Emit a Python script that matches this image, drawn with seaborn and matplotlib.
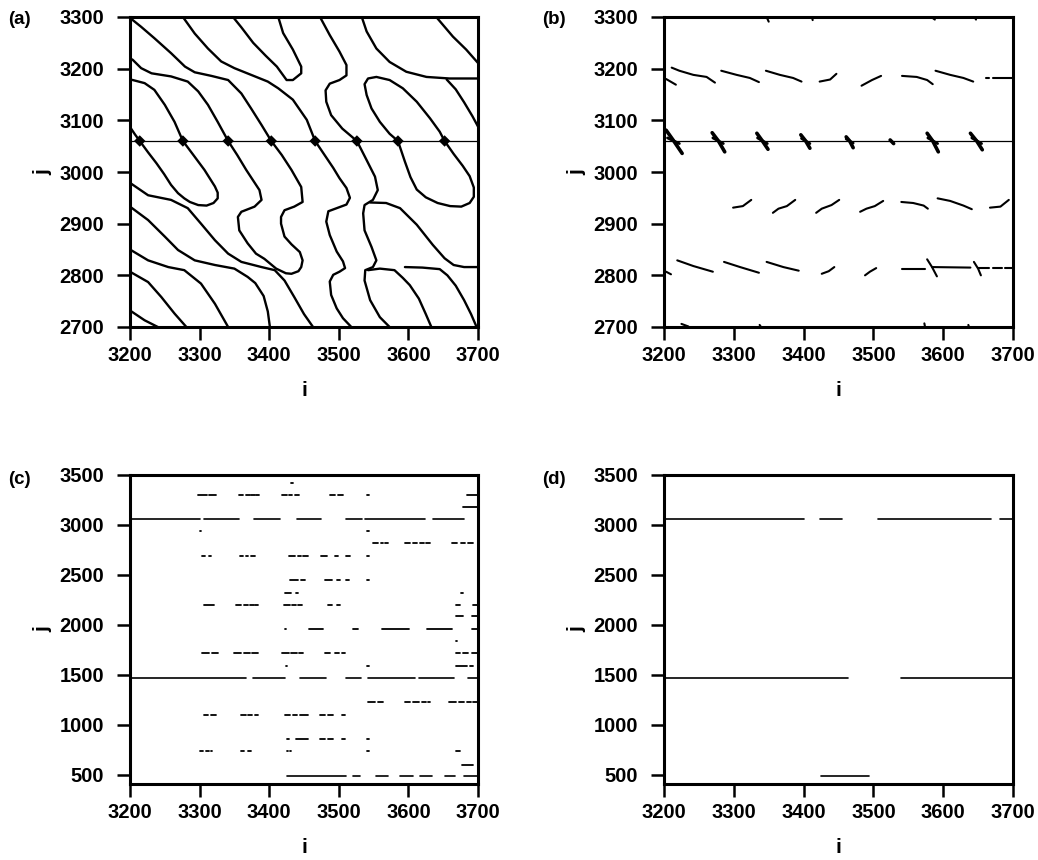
import matplotlib
matplotlib.use("Agg")
import matplotlib.pyplot as plt
import pandas as pd
import seaborn as sns

sns.set_theme(style="ticks", rc={"axes.edgecolor": "black", "xtick.color": "black",
                                 "ytick.color": "black", "text.color": "black",
                                 "axes.labelcolor": "black"})
plt.rcParams["font.family"] = ["Liberation Sans", "DejaVu Sans"]
plt.rcParams["font.weight"] = "bold"

# ---------------------------------------------------------------------
# panel (a): traced level lines, points are (i, j)
# ---------------------------------------------------------------------
cut_j = 3060
cross_i = [3214, 3276, 3341, 3403, 3466, 3526, 3585, 3652]

a_loop12 = [(3200, 3087), (3207, 3073), (3214, 3060), (3226, 3038), (3238, 3017), (3249, 2996),
            (3259, 2975), (3269, 2959), (3278, 2949), (3286, 2942), (3298, 2936), (3310, 2935),
            (3320, 2940), (3326, 2949), (3326, 2960), (3322, 2972), (3307, 3004), (3291, 3033),
            (3276, 3060), (3264, 3097), (3250, 3130), (3235, 3159), (3221, 3172), (3204, 3178),
            (3200, 3179)]
a_loop34 = [(3200, 3220), (3204, 3217), (3216, 3201), (3231, 3191), (3259, 3185), (3283, 3175),
            (3298, 3156), (3312, 3130), (3326, 3097), (3341, 3060), (3354, 3033), (3367, 3004),
            (3386, 2965), (3389, 2946), (3379, 2933), (3360, 2923), (3355, 2913), (3357, 2887),
            (3369, 2862), (3381, 2842), (3393, 2832), (3410, 2813), (3424, 2804), (3432, 2803),
            (3442, 2808), (3446, 2816), (3448, 2829), (3444, 2845), (3432, 2860), (3422, 2875),
            (3417, 2900), (3417, 2913), (3422, 2926), (3436, 2933), (3448, 2942), (3446, 2971),
            (3432, 3004), (3418, 3033), (3403, 3060), (3389, 3091), (3374, 3123), (3360, 3152),
            (3341, 3178), (3317, 3186), (3293, 3193), (3279, 3204), (3259, 3230), (3235, 3259),
            (3216, 3281), (3204, 3294), (3200, 3300)]
a_line5 = [(3276, 3300), (3293, 3268), (3312, 3239), (3331, 3214), (3350, 3201), (3374, 3188),
           (3398, 3175), (3413, 3162), (3434, 3140), (3454, 3101), (3466, 3060), (3478, 3036),
           (3492, 3008), (3501, 2988), (3511, 2969), (3516, 2950), (3511, 2937), (3497, 2930),
           (3485, 2924), (3482, 2904), (3487, 2878), (3497, 2846), (3506, 2827), (3509, 2814),
           (3501, 2807), (3492, 2801), (3487, 2788), (3489, 2762), (3497, 2736), (3506, 2717),
           (3518, 2700)]
a_hook_top = [(3348, 3300), (3360, 3280), (3377, 3250), (3395, 3225), (3411, 3204), (3425, 3178),
              (3434, 3178), (3446, 3191), (3446, 3204), (3434, 3237), (3420, 3269), (3413, 3300)]
a_line6 = [(3473, 3300), (3487, 3265), (3501, 3233), (3511, 3207), (3511, 3187), (3501, 3178),
           (3487, 3171), (3481, 3158), (3482, 3136), (3489, 3110), (3505, 3084), (3526, 3060),
           (3540, 3023), (3552, 2991), (3556, 2965), (3549, 2946), (3537, 2936), (3535, 2920),
           (3537, 2887), (3547, 2855), (3554, 2829), (3549, 2816), (3538, 2810), (3537, 2790),
           (3545, 2752), (3559, 2719), (3573, 2700)]
a_loop78 = [(3585, 3060), (3573, 3074), (3559, 3097), (3547, 3123), (3540, 3149), (3537, 3170),
            (3542, 3181), (3554, 3184), (3573, 3178), (3592, 3162), (3612, 3136), (3631, 3104),
            (3645, 3078), (3652, 3060), (3665, 3035), (3678, 3012), (3688, 2992), (3694, 2970),
            (3694, 2952), (3688, 2940), (3676, 2933), (3660, 2934), (3642, 2940), (3625, 2951),
            (3612, 2966), (3603, 2990), (3595, 3020), (3585, 3060)]
a_top7 = [(3533, 3300), (3540, 3272), (3554, 3239), (3573, 3213), (3597, 3194), (3626, 3184),
          (3659, 3181), (3700, 3181)]
a_top8 = [(3640, 3300), (3664, 3262), (3683, 3237), (3700, 3211)]
a_right_up = [(3655, 3179), (3668, 3160), (3680, 3135), (3692, 3108), (3700, 3088)]
a_mid1 = [(3545, 2941), (3568, 2940), (3588, 2930), (3612, 2898), (3635, 2859), (3652, 2833),
          (3665, 2820), (3680, 2816), (3700, 2816)]
a_mid2 = [(3542, 2810), (3559, 2813), (3580, 2810), (3592, 2795), (3602, 2781), (3615, 2755),
          (3625, 2725), (3633, 2700)]
a_mid3 = [(3595, 2816), (3620, 2815), (3645, 2812), (3656, 2800), (3668, 2780), (3680, 2752),
          (3690, 2725), (3698, 2700)]
a_left4 = [(3200, 2979), (3226, 2955), (3259, 2946), (3283, 2930), (3302, 2900), (3322, 2868),
           (3341, 2842), (3360, 2826), (3389, 2816), (3408, 2810), (3422, 2790), (3436, 2758),
           (3450, 2725), (3463, 2700)]
a_left5 = [(3200, 2933), (3226, 2907), (3250, 2875), (3269, 2849), (3293, 2829), (3322, 2820),
           (3350, 2813), (3369, 2797), (3380, 2785), (3392, 2760), (3398, 2730), (3401, 2700)]
a_left6 = [(3200, 2850), (3226, 2829), (3255, 2816), (3278, 2810), (3302, 2784), (3322, 2745),
           (3341, 2700)]
a_left7 = [(3200, 2807), (3226, 2787), (3245, 2758), (3264, 2726), (3281, 2700)]
a_left8 = [(3200, 2732), (3221, 2713), (3240, 2700)]

# ---------------------------------------------------------------------
# panel (b): the pieces that are left
# ---------------------------------------------------------------------
b_upper = [
    [(3203, 3180), (3217, 3169)],
    [(3211, 3202), (3222, 3196), (3242, 3188), (3261, 3184), (3273, 3173)],
    [(3282, 3196), (3304, 3188), (3323, 3182), (3336, 3174)],
    [(3346, 3196), (3366, 3188), (3385, 3182), (3397, 3175)],
    [(3423, 3175), (3438, 3179), (3447, 3190)],
    [(3483, 3167), (3498, 3178), (3511, 3186)],
    [(3541, 3186), (3562, 3184), (3577, 3178), (3585, 3170)],
    [(3589, 3196), (3610, 3188), (3629, 3182), (3643, 3175)],
    [(3662, 3182), (3666, 3182)],
    [(3672, 3181), (3700, 3181)],
]
b_middle = [
    [(3299, 2931), (3313, 2934), (3325, 2946)],
    [(3356, 2921), (3364, 2929), (3376, 2934), (3388, 2946)],
    [(3418, 2921), (3426, 2929), (3440, 2936), (3451, 2946)],
    [(3481, 2923), (3490, 2929), (3502, 2934), (3514, 2944)],
    [(3540, 2942), (3557, 2940), (3572, 2935), (3578, 2929)],
    [(3592, 2949), (3610, 2944), (3629, 2935), (3641, 2928)],
    [(3667, 2931), (3682, 2933), (3694, 2946)],
]
b_lower = [
    [(3203, 2807), (3210, 2802)],
    [(3219, 2829), (3242, 2818), (3270, 2807)],
    [(3286, 2826), (3309, 2816), (3336, 2805)],
    [(3347, 2826), (3371, 2816), (3393, 2809)],
    [(3426, 2803), (3436, 2808), (3444, 2816)],
    [(3488, 2800), (3495, 2807), (3504, 2814)],
    [(3541, 2813), (3574, 2813)],
    [(3577, 2831), (3584, 2816), (3591, 2798)],
    [(3584, 2816), (3639, 2815)],
    [(3644, 2826), (3650, 2813), (3654, 2800)],
    [(3650, 2814), (3665, 2814)],
    [(3672, 2814), (3684, 2814)],
    [(3689, 2814), (3700, 2814)],
]
b_edges = [
    [(3347, 3300), (3350, 3291)], [(3412, 3300), (3413, 3294)],
    [(3583, 3300), (3588, 3295)], [(3645, 3300), (3647, 3295)],
    [(3225, 2706), (3235, 2701)], [(3337, 2704), (3339, 2700)],
    [(3573, 2707), (3574, 2700)], [(3636, 2704), (3637, 2700)],
]
b_cross = [
    [(3203, 3081), (3214, 3060), (3226, 3036)],
    [(3269, 3076), (3278, 3060), (3287, 3039)],
    [(3333, 3075), (3341, 3060), (3349, 3044)],
    [(3396, 3072), (3403, 3060), (3409, 3046)],
    [(3461, 3068), (3466, 3060), (3471, 3047)],
    [(3524, 3062), (3529, 3055)],
    [(3577, 3075), (3585, 3060), (3593, 3039)],
    [(3639, 3075), (3648, 3060), (3656, 3043)],
]
b_cross_bar = [
    [(3205, 3066), (3222, 3055)], [(3270, 3066), (3285, 3055)],
    [(3334, 3066), (3348, 3055)], [(3397, 3065), (3409, 3055)],
    [(3461, 3064), (3471, 3056)], [(3578, 3066), (3592, 3055)],
    [(3641, 3066), (3655, 3055)],
]

# ---------------------------------------------------------------------
# panels (c) and (d): horizontal runs, (i_start, i_end) for each row j
# ---------------------------------------------------------------------
row_top, row_mid, row_low = 3060, 1465, 490
c_top = [(3200, 3300), (3306, 3356), (3378, 3415), (3440, 3475), (3511, 3534), (3538, 3624),
         (3636, 3680)]
c_mid = [(3200, 3367), (3377, 3423), (3444, 3482), (3511, 3532), (3542, 3610), (3615, 3666),
         (3686, 3700)]
c_low = [(3425, 3511), (3521, 3530), (3553, 3570), (3588, 3607), (3617, 3634), (3653, 3667),
         (3680, 3698)]

c_dash_j = [3423, 3300, 3183, 2935, 2817, 2690, 2450, 2323, 2200, 2083, 1957, 1833,
            1717, 1590, 1223, 1100, 857, 733, 600]
c_dash_spans = [
    [(3432, 3434)],
    [(3298, 3310), (3314, 3324), (3356, 3362), (3367, 3372), (3374, 3379), (3381, 3386),
     (3418, 3425), (3428, 3433), (3437, 3443), (3487, 3494), (3499, 3506), (3541, 3543),
     (3684, 3700)],
    [(3678, 3700)],
    [(3300, 3302), (3541, 3543)],
    [(3549, 3557), (3560, 3563), (3566, 3571), (3595, 3603), (3607, 3613), (3617, 3623),
     (3626, 3631), (3662, 3670), (3675, 3681), (3686, 3693)],
    [(3303, 3308), (3313, 3317), (3358, 3362), (3366, 3370), (3374, 3379), (3428, 3437),
     (3441, 3446), (3449, 3456), (3475, 3483), (3495, 3499), (3511, 3516), (3541, 3543)],
    [(3430, 3441), (3445, 3451), (3480, 3490), (3497, 3502), (3511, 3514), (3541, 3543)],
    [(3423, 3432), (3438, 3441), (3676, 3678)],
    [(3307, 3321), (3353, 3360), (3364, 3370), (3373, 3378), (3380, 3384), (3421, 3430),
     (3433, 3438), (3441, 3447), (3485, 3490), (3497, 3502), (3669, 3674), (3693, 3700)],
    [(3669, 3679), (3691, 3700)],
    [(3422, 3424), (3457, 3478), (3521, 3528), (3562, 3601), (3627, 3662), (3692, 3700)],
    [(3668, 3670)],
    [(3303, 3314), (3318, 3326), (3350, 3360), (3364, 3372), (3376, 3384), (3418, 3428),
     (3432, 3440), (3443, 3449), (3480, 3487), (3495, 3500), (3504, 3509), (3669, 3674),
     (3679, 3686), (3691, 3698)],
    [(3424, 3426), (3541, 3543), (3669, 3684), (3689, 3693)],
    [(3542, 3552), (3556, 3564), (3595, 3603), (3607, 3615), (3619, 3625), (3628, 3631),
     (3658, 3668), (3672, 3680), (3684, 3690), (3693, 3698)],
    [(3306, 3312), (3317, 3323), (3360, 3366), (3370, 3376), (3380, 3384), (3422, 3430),
     (3434, 3440), (3444, 3456), (3473, 3480), (3484, 3492), (3504, 3509)],
    [(3425, 3429), (3439, 3456), (3473, 3480), (3484, 3492), (3504, 3509), (3541, 3543)],
    [(3300, 3305), (3309, 3313), (3316, 3318), (3360, 3364), (3370, 3374), (3425, 3427),
     (3430, 3432), (3541, 3543), (3669, 3674)],
    [(3677, 3693)],
]

d_top = [(3200, 3400), (3423, 3455), (3506, 3669), (3682, 3700)]
d_mid = [(3200, 3464), (3540, 3700)]
d_low = [(3425, 3493)]


def curve_frame(curves):
    rows = []
    for k, pts in enumerate(curves):
        for n, (i, j) in enumerate(pts):
            rows.append({"curve": k, "n": n, "i": i, "j": j})
    return pd.DataFrame(rows)


def runs_frame(rows_j, spans_per_row):
    curves = []
    for j, spans in zip(rows_j, spans_per_row):
        for i0, i1 in spans:
            curves.append([(i0, j), (i1, j)])
    return curve_frame(curves)


def draw(ax, frame, lw):
    sns.lineplot(data=frame, x="i", y="j", units="curve", estimator=None, sort=False,
                 color="black", linewidth=lw, ax=ax, legend=False)


def style(ax, ylim, yticks, tag, tag_x, tag_y):
    ax.set_xlim(3200, 3700)
    ax.set_ylim(*ylim)
    ax.set_xticks(range(3200, 3701, 100))
    ax.set_yticks(yticks)
    ax.tick_params(direction="out", length=9.5, width=1.8, labelsize=14.5,
                   top=False, right=False)
    ax.tick_params(axis="x", pad=4)
    ax.tick_params(axis="y", pad=9)
    for s in ax.spines.values():
        s.set_linewidth(2.2)
        s.set_color("black")
    ax.set_xlabel("i", fontsize=15, fontweight="bold", labelpad=12)
    ax.set_ylabel("j", fontsize=15, fontweight="bold", labelpad=5)
    ax.grid(False)
    ax.figure.text(tag_x / 1038, 1 - tag_y / 860, tag, fontsize=13.5, fontweight="bold",
                   ha="left", va="center")


fig = plt.figure(figsize=(10.38, 8.6), dpi=100)
ax_a = fig.add_axes([130 / 1038, 1 - 327 / 860, 348 / 1038, 310 / 860])
ax_b = fig.add_axes([664 / 1038, 1 - 327 / 860, 349 / 1038, 310 / 860])
ax_c = fig.add_axes([130 / 1038, 1 - 784 / 860, 348 / 1038, 309 / 860])
ax_d = fig.add_axes([664 / 1038, 1 - 784 / 860, 349 / 1038, 309 / 860])

# (a)
a_curves = [a_loop12, a_loop34, a_line5, a_hook_top, a_line6, a_loop78, a_top7, a_top8,
            a_right_up, a_mid1, a_mid2, a_mid3, a_left4, a_left5, a_left6, a_left7, a_left8]
draw(ax_a, curve_frame(a_curves), 1.7)
draw(ax_a, curve_frame([[(3200, cut_j), (3700, cut_j)]]), 0.9)
sns.scatterplot(x=cross_i, y=[cut_j] * len(cross_i), marker="D", s=34, color="black",
                edgecolor="none", ax=ax_a, legend=False)

# (b)
draw(ax_b, curve_frame(b_upper + b_middle + b_lower + b_edges), 1.5)
draw(ax_b, curve_frame([[(3200, cut_j), (3700, cut_j)]]), 0.9)
draw(ax_b, curve_frame(b_cross), 2.6)
draw(ax_b, curve_frame(b_cross_bar), 2.0)

# (c)
draw(ax_c, runs_frame([row_top, row_mid, row_low], [c_top, c_mid, c_low]), 1.2)
draw(ax_c, runs_frame(c_dash_j, c_dash_spans), 1.3)

# (d)
draw(ax_d, runs_frame([row_top, row_mid, row_low], [d_top, d_mid, d_low]), 1.2)

style(ax_a, (2700, 3300), range(2700, 3301, 100), "(a)", 8, 20)
style(ax_b, (2700, 3300), range(2700, 3301, 100), "(b)", 542, 20)
style(ax_c, (405, 3500), range(500, 3501, 500), "(c)", 8, 480)
style(ax_d, (405, 3500), range(500, 3501, 500), "(d)", 542, 480)

fig.savefig("out.png", dpi=100)
